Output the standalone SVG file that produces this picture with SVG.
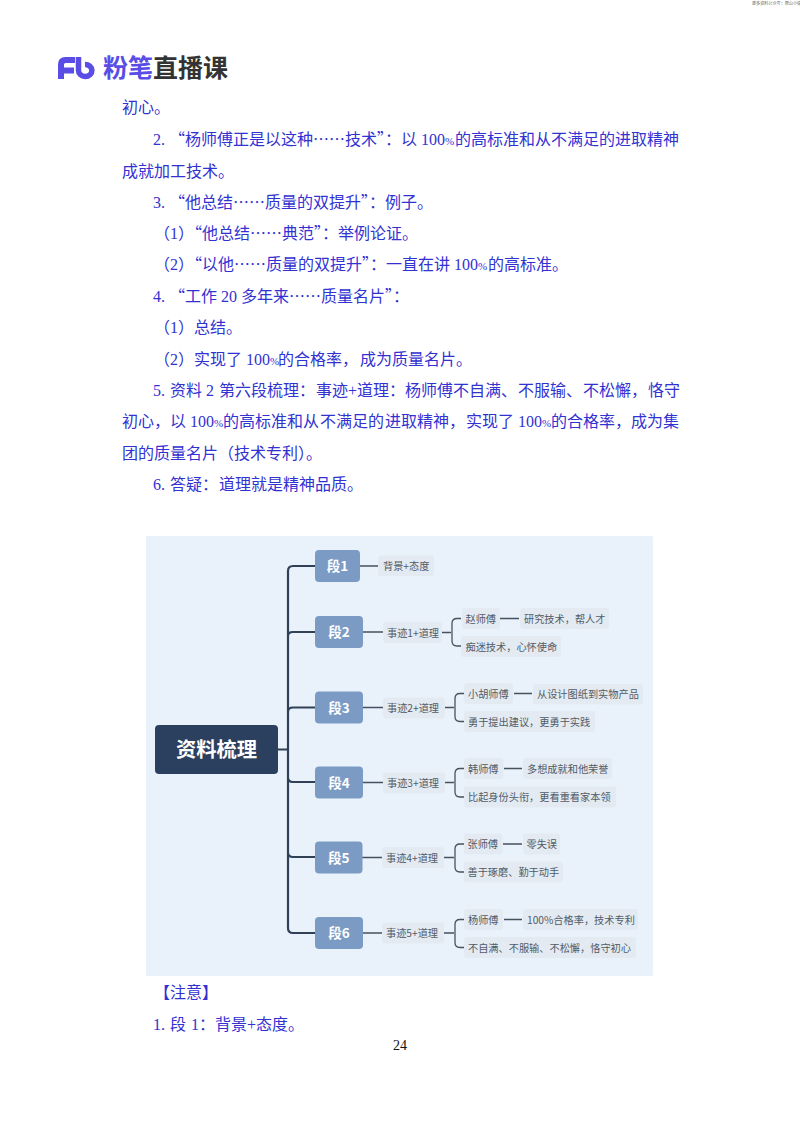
<svg xmlns="http://www.w3.org/2000/svg" width="800" height="1132" viewBox="0 0 800 1132">
<style>
text{font-family:"Noto Sans CJK SC","Noto Sans",sans-serif}
.b{font-size:16px;fill:#3232d2;font-weight:400}
.l{font-family:"Liberation Serif","Noto Sans CJK SC",serif}
.p{font-size:11px}
.chip{fill:#e4eaf2}
.t{font-size:10.2px;fill:#505c68}
.seg rect{fill:#7b9bc5}
.seg text{font-size:13.5px;font-weight:700;fill:#fff;text-anchor:middle}
.c1{fill:none;stroke:#2f4057;stroke-width:2.2}
.c2{fill:none;stroke:#46525f;stroke-width:1.3}
.c3{fill:none;stroke:#46525f;stroke-width:1.6}
</style>
<rect width="800" height="1132" fill="#fff"/>
<text x="752" y="5" font-size="4.1" fill="#666">更多资料公众号：帮山小镇</text>
<g id="logo">
<path d="M61 79V64.500Q61 60 65.500 60H75M61 70.500H74" fill="none" stroke="#5a4de6" stroke-width="6"/>
<path d="M78.500 57V70.500A6.700 6 0 1 0 85 64.500" fill="none" stroke="#5a4de6" stroke-width="5.500"/>
<text x="103" y="77" font-size="25" font-weight="700" fill="#5a4de6">粉笔<tspan fill="#333">直播课</tspan></text>
</g>
<g id="body">
<text class="b" x="122" y="112.500">初心。</text>
<text class="b" x="153" y="144.500"><tspan class="l">2. </tspan>“杨师傅正是以这种……技术”：以<tspan class="l"> 100<tspan class="p">%</tspan></tspan><tspan x="455">的高标准和从不满足的进取精神</tspan></text>
<text class="b" x="122" y="176.500">成就加工技术。</text>
<text class="b" x="153" y="207.500"><tspan class="l">3. </tspan>“他总结……质量的双提升”：例子。</text>
<text class="b" x="154" y="238.500">（<tspan class="l">1</tspan>）“他总结……典范”：举例论证。</text>
<text class="b" x="154" y="269.500">（<tspan class="l">2</tspan>）“以他……质量的双提升”：一直在讲<tspan class="l"> 100<tspan class="p">%</tspan></tspan><tspan x="488">的高标准。</tspan></text>
<text class="b" x="153" y="301.500"><tspan class="l">4. </tspan>“工作<tspan class="l"> 20 </tspan>多年来……质量名片”：</text>
<text class="b" x="154" y="332.500">（<tspan class="l">1</tspan>）总结。</text>
<text class="b" x="154" y="364.500">（<tspan class="l">2</tspan>）实现了<tspan class="l"> 100<tspan class="p">%</tspan></tspan><tspan x="278">的合格率，</tspan><tspan x="360">成为质量名片。</tspan></text>
<text class="b" x="153" y="395.500"><tspan class="l">5. </tspan><tspan x="170">资料</tspan><tspan class="l" x="206">2</tspan><tspan x="219">第六段梳理：</tspan><tspan x="316">事迹</tspan><tspan class="l">+</tspan><tspan x="357">道理：</tspan><tspan x="405">杨师傅不自满、</tspan><tspan x="518">不服输、</tspan><tspan x="583">不松懈，</tspan><tspan x="648">恪守</tspan></text>
<text class="b" x="122" y="426.500">初心，<tspan x="170">以</tspan><tspan class="l" x="190">100<tspan class="p">%</tspan></tspan><tspan x="223">的</tspan><tspan x="239">高标准和从</tspan><tspan x="320">不满足的</tspan><tspan x="385">进取精神，</tspan><tspan x="466">实现了</tspan><tspan class="l" x="518">100<tspan class="p">%</tspan></tspan><tspan x="551">的</tspan><tspan x="567">合格率，</tspan><tspan x="631">成为集</tspan></text>
<text class="b" x="122" y="458.500">团的质量名片（技术专利）。</text>
<text class="b" x="153" y="489.500"><tspan class="l">6. </tspan><tspan x="170">答疑：</tspan><tspan x="219">道理就是精神品质。</tspan></text>
<text class="b" x="154" y="997.500">【注意】</text>
<text class="b" x="153" y="1029.500"><tspan class="l">1. </tspan><tspan x="170">段</tspan><tspan class="l" x="191">1</tspan><tspan x="199">：</tspan><tspan x="215">背景</tspan><tspan class="l">+</tspan>态度。</text>
<text x="400" y="1050" text-anchor="middle" font-size="14" fill="#111" style="font-family:'Liberation Serif',serif">24</text>
</g>
<rect id="panel" x="146" y="536" width="507" height="440" rx="1" fill="#e9f2fb"/>
<g id="connectors">
<path class="c1" d="M278 749.500H288M315 566H293Q288 566 288 571V928Q288 933 293 933H315M288 636Q288 632 293 632H315M288 712Q288 707.500 293 707.500H315M288 777.500Q288 782 293 782H315M288 852.500Q288 857 293 857H315"/>
<path class="c2" d="M360 566H378M363 632H383M363 707.500H384M363 782.500H383M362 857.500H382M363 933H382"/>
<path class="c2" d="M442 632.500H451M461 618.500H457Q452 618.500 452 623.500V641Q452 646 457 646H461"/>
<path class="c2" d="M445 707.500H454M464 693.500H460Q455 693.500 455 698.500V716.500Q455 721.500 460 721.500H464"/>
<path class="c2" d="M445 782.500H454M464 768.500H460Q455 768.500 455 773.500V792Q455 797 460 797H464"/>
<path class="c2" d="M444 857.500H454M464 844H460Q455 844 455 849V867Q455 872 460 872H464"/>
<path class="c2" d="M444 933H454M464 919.500H460Q455 919.500 455 924.500V942.500Q455 947.500 460 947.500H464"/>
<path class="c3" d="M500 618.500H519M514 693.500H532M504 768.500H522M503 844H522M504 919.500H522"/>
</g>
<g id="root"><rect x="155" y="725" width="123" height="49" rx="4" fill="#2b405e"/><text x="216.500" y="757" text-anchor="middle" font-size="20.300" font-weight="700" fill="#fff">资料梳理</text></g>
<g id="seg1" class="seg"><rect x="315" y="550" width="45" height="32" rx="4"/><text x="337.500" y="571">段1</text></g>
<g id="seg2" class="seg"><rect x="315" y="616" width="48" height="32" rx="4"/><text x="339" y="637">段2</text></g>
<g id="seg3" class="seg"><rect x="315" y="691.500" width="48" height="32" rx="4"/><text x="339" y="712.500">段3</text></g>
<g id="seg4" class="seg"><rect x="315" y="766.500" width="48" height="32" rx="4"/><text x="339" y="787.500">段4</text></g>
<g id="seg5" class="seg"><rect x="315" y="841.500" width="47.500" height="32" rx="4"/><text x="338.700" y="862.500">段5</text></g>
<g id="seg6" class="seg"><rect x="315" y="917" width="48" height="32" rx="4"/><text x="339" y="938">段6</text></g>
<g id="n1"><rect class="chip" x="378" y="555.500" width="56" height="20.500" rx="3"/><text class="t" x="383" y="569.500">背景+态度</text></g>
<g id="n2"><rect class="chip" x="383" y="622" width="59" height="21" rx="3"/><text class="t" x="387" y="636.500">事迹1+道理</text></g>
<g id="n2a"><rect class="chip" x="462" y="608" width="38" height="21" rx="3"/><text class="t" x="465.500" y="622.500">赵师傅</text></g>
<g id="n2b"><rect class="chip" x="520" y="608" width="89" height="21" rx="3"/><text class="t" x="524" y="622.500">研究技术，帮人才</text></g>
<g id="n2c"><rect class="chip" x="461" y="636" width="100" height="21" rx="3"/><text class="t" x="465.500" y="650.500">痴迷技术，心怀使命</text></g>
<g id="n3"><rect class="chip" x="383" y="697.500" width="62" height="21" rx="3"/><text class="t" x="387" y="712">事迹2+道理</text></g>
<g id="n3a"><rect class="chip" x="464" y="683" width="49" height="21" rx="3"/><text class="t" x="468" y="697.500">小胡师傅</text></g>
<g id="n3b"><rect class="chip" x="533" y="684" width="110" height="20.500" rx="3"/><text class="t" x="537" y="698">从设计图纸到实物产品</text></g>
<g id="n3c"><rect class="chip" x="464" y="711" width="131" height="21" rx="3"/><text class="t" x="468" y="725.500">勇于提出建议，更勇于实践</text></g>
<g id="n4"><rect class="chip" x="383" y="772.500" width="62" height="21" rx="3"/><text class="t" x="387" y="787">事迹3+道理</text></g>
<g id="n4a"><rect class="chip" x="464" y="758" width="39.500" height="21" rx="3"/><text class="t" x="468" y="772.500">韩师傅</text></g>
<g id="n4b"><rect class="chip" x="523" y="758" width="89" height="21" rx="3"/><text class="t" x="527" y="772.500">多想成就和他荣誉</text></g>
<g id="n4c"><rect class="chip" x="464" y="786.500" width="152" height="21" rx="3"/><text class="t" x="468" y="801">比起身份头衔，更看重看家本领</text></g>
<g id="n5"><rect class="chip" x="382" y="847" width="62" height="21" rx="3"/><text class="t" x="386" y="861.500">事迹4+道理</text></g>
<g id="n5a"><rect class="chip" x="464" y="833.500" width="38.500" height="21" rx="3"/><text class="t" x="467.500" y="848">张师傅</text></g>
<g id="n5b"><rect class="chip" x="523" y="833.500" width="37" height="21" rx="3"/><text class="t" x="526.500" y="848">零失误</text></g>
<g id="n5c"><rect class="chip" x="464" y="861.500" width="99" height="21" rx="3"/><text class="t" x="467.500" y="876">善于琢磨、勤于动手</text></g>
<g id="n6"><rect class="chip" x="382" y="922.500" width="62" height="21" rx="3"/><text class="t" x="386" y="937">事迹5+道理</text></g>
<g id="n6a"><rect class="chip" x="464" y="909" width="39" height="21" rx="3"/><text class="t" x="468" y="923.500">杨师傅</text></g>
<g id="n6b"><rect class="chip" x="523" y="909" width="115" height="21" rx="3"/><text class="t" x="527" y="923.500">100%合格率，技术专利</text></g>
<g id="n6c"><rect class="chip" x="464" y="937" width="172" height="21" rx="3"/><text class="t" x="468" y="951.500">不自满、不服输、不松懈，恪守初心</text></g>
</svg>
